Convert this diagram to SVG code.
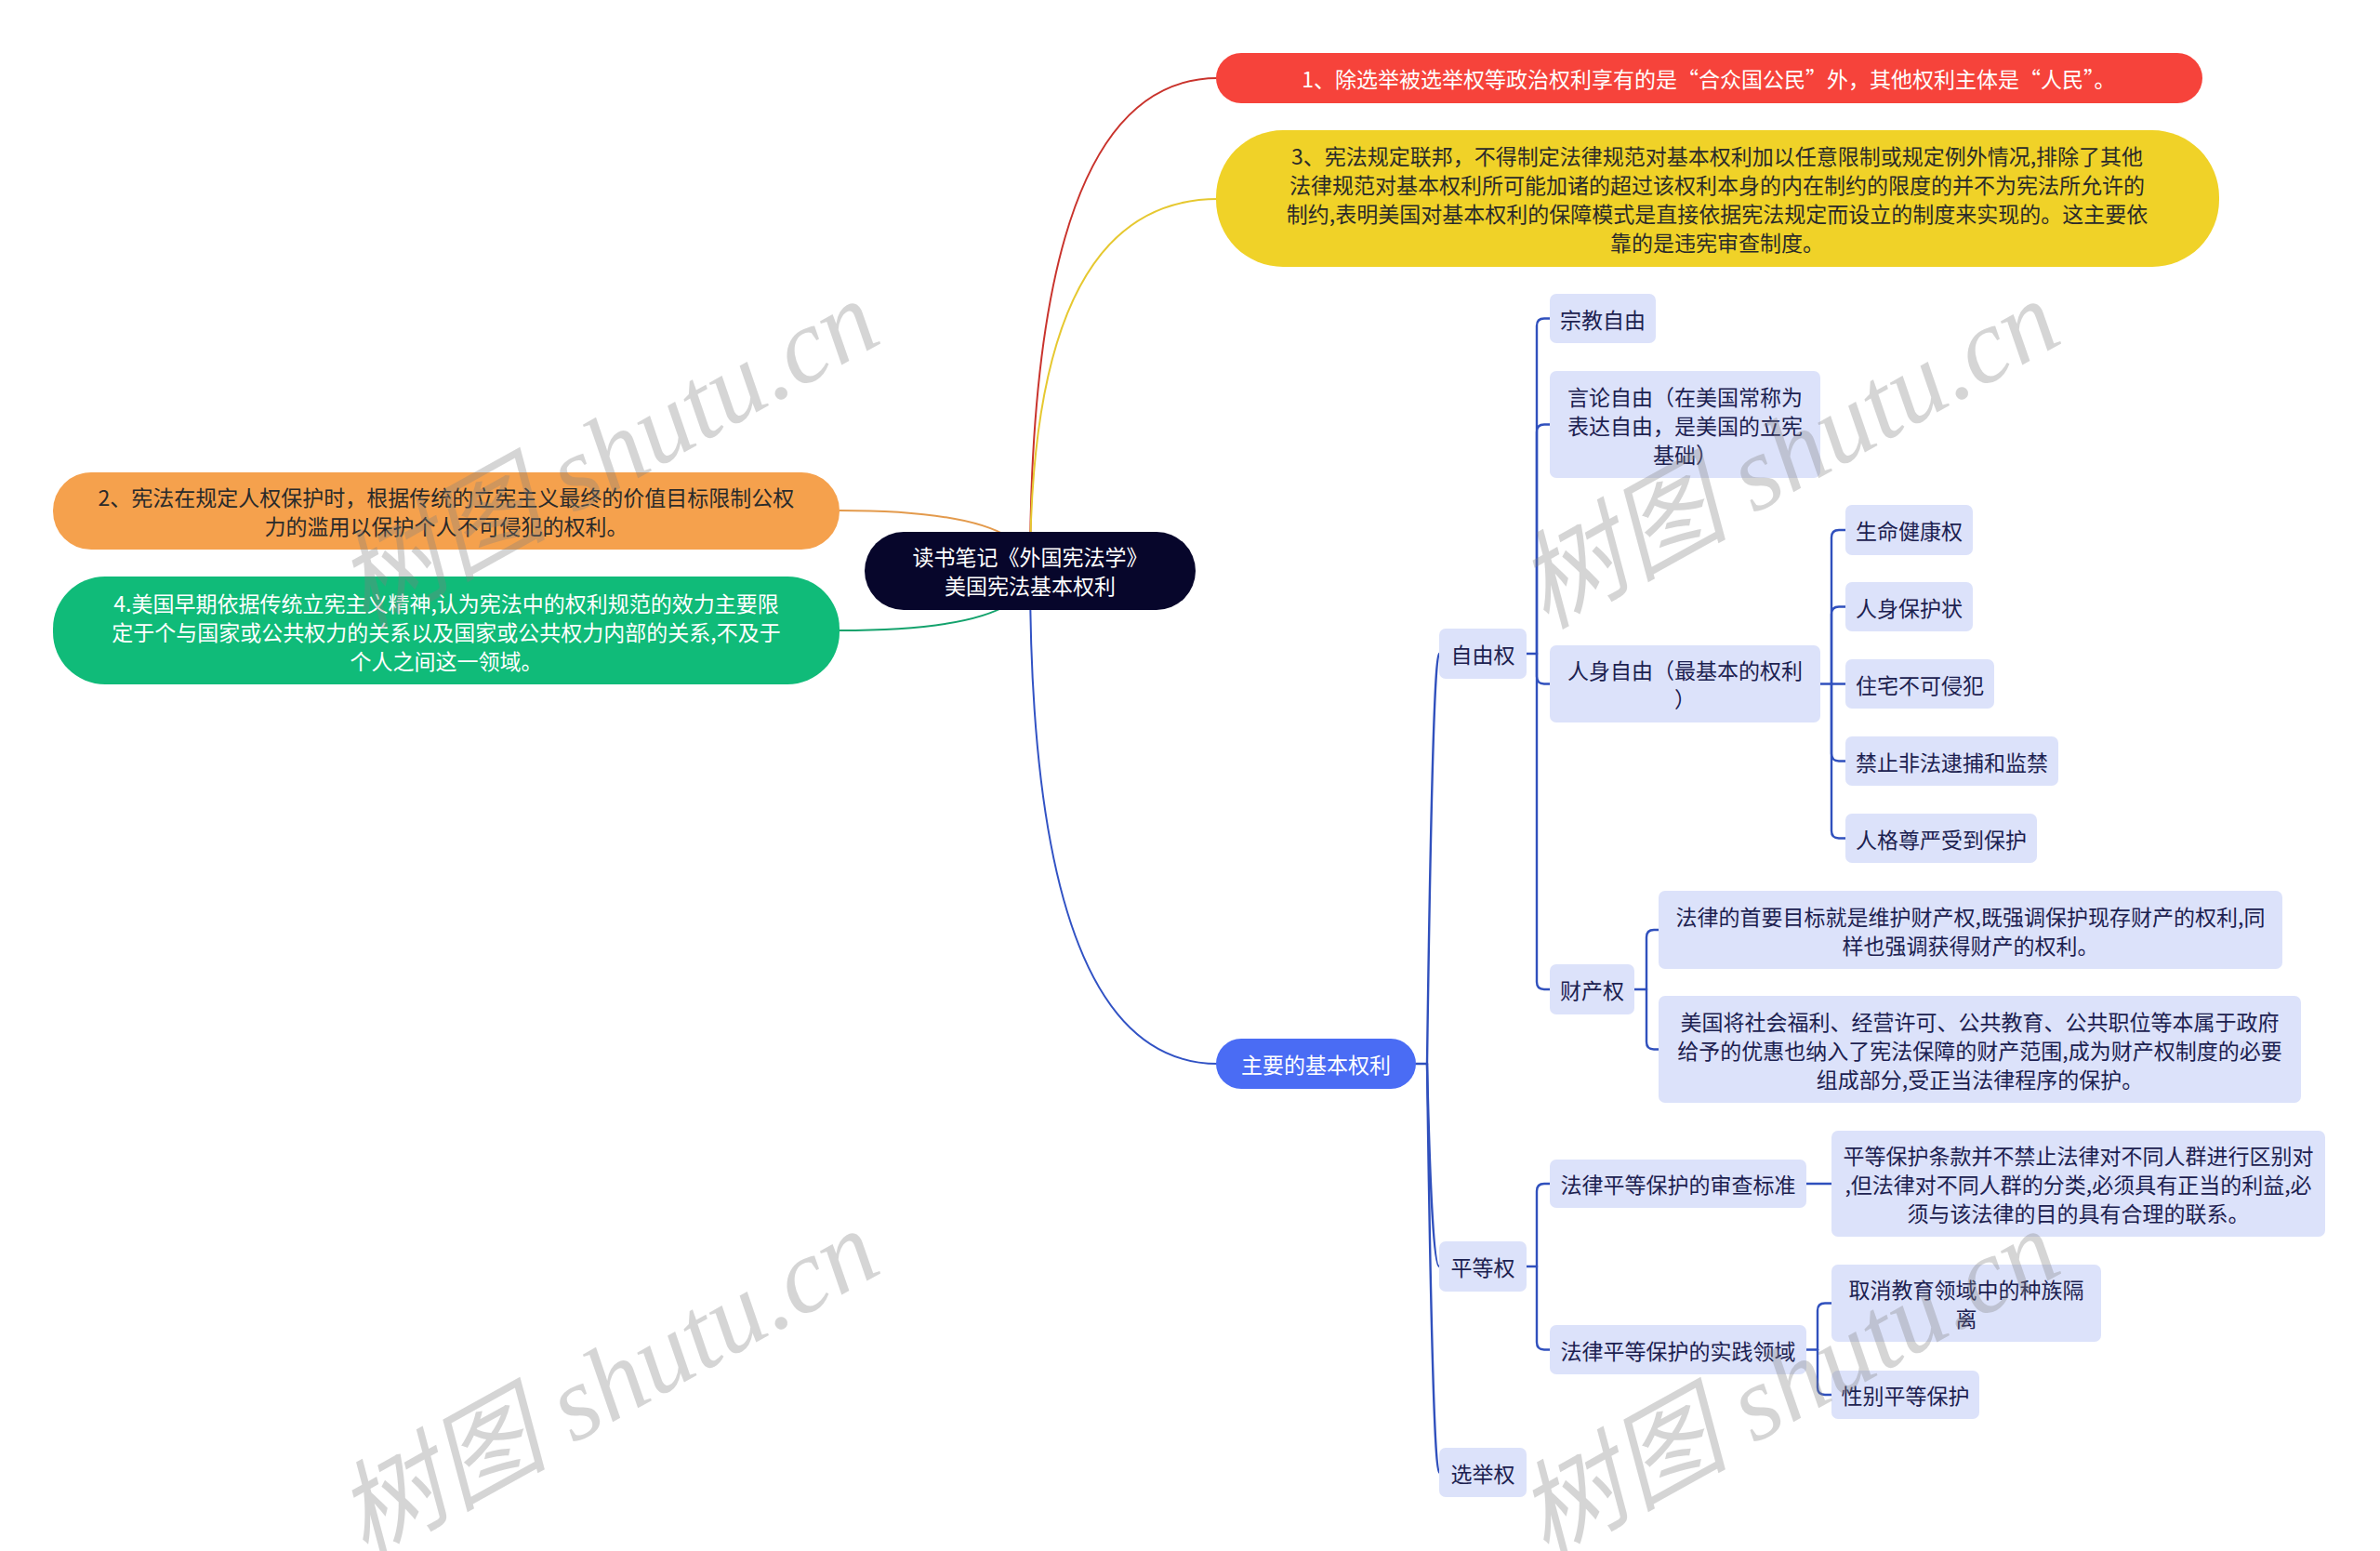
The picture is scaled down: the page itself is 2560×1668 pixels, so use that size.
<svg xmlns="http://www.w3.org/2000/svg" width="2560" height="1668" viewBox="0 0 2560 1668">
<style>
text{font-family:"Noto Sans CJK SC","Noto Sans",sans-serif;font-size:23px;text-anchor:middle;dominant-baseline:central}
.w{fill:#ffffff}
.d{fill:#2a2a2a}
.n{fill:#1c2150}
.lv{fill:#dce2fa}
.bl{fill:none;stroke:#3050bd;stroke-width:2.4;stroke-linecap:round}
.wm{font-family:"Liberation Serif","Noto Sans CJK SC",serif;font-style:italic;font-size:114px;fill:#808080;opacity:0.32;text-anchor:middle;dominant-baseline:alphabetic}
</style>
<rect width="2560" height="1668" fill="#ffffff"/>

<g id="connectors">
  <path d="M1108,614 Q1108,84 1310,84" fill="none" stroke="#c9332c" stroke-width="2"/>
  <path d="M1108,614 Q1108,214 1310,214" fill="none" stroke="#e6c830" stroke-width="2"/>
  <path d="M1108,614 Q1108,549 903,549" fill="none" stroke="#e39a4c" stroke-width="2"/>
  <path d="M1108,614 Q1108,678 903,678" fill="none" stroke="#13a26c" stroke-width="2"/>
  <path d="M1108,614 Q1108,1144 1310,1144" fill="none" stroke="#3152c4" stroke-width="2"/>
  <path class="bl" d="M1523,1144 H1535"/>
  <path class="bl" d="M1535,1144 Q1541,703 1548,703"/>
  <path class="bl" d="M1535,1144 Q1540,1362 1548,1362"/>
  <path class="bl" d="M1535,1144 Q1541,1583.5 1548,1583.5"/>
  <path class="bl" d="M1642,703 H1653"/>
  <path class="bl" d="M1653,703 V350.5 Q1653,342.5 1661,342.5 H1667"/>
  <path class="bl" d="M1653,703 V464.5 Q1653,456.5 1661,456.5 H1667"/>
  <path class="bl" d="M1653,703 V727.5 Q1653,735.5 1661,735.5 H1667"/>
  <path class="bl" d="M1653,703 V1056 Q1653,1064 1661,1064 H1667"/>
  <path class="bl" d="M1958,735.5 H1970"/>
  <path class="bl" d="M1970,735.5 V578 Q1970,570 1978,570 H1985"/>
  <path class="bl" d="M1970,735.5 V660.5 Q1970,652.5 1978,652.5 H1985"/>
  <path class="bl" d="M1970,735.5 H1985"/>
  <path class="bl" d="M1970,735.5 V810.5 Q1970,818.5 1978,818.5 H1985"/>
  <path class="bl" d="M1970,735.5 V893.5 Q1970,901.5 1978,901.5 H1985"/>
  <path class="bl" d="M1758,1064 H1771"/>
  <path class="bl" d="M1771,1064 V1008 Q1771,1000 1779,1000 H1784"/>
  <path class="bl" d="M1771,1064 V1120.5 Q1771,1128.5 1779,1128.5 H1784"/>
  <path class="bl" d="M1642,1362 H1653"/>
  <path class="bl" d="M1653,1362 V1281 Q1653,1273 1661,1273 H1667"/>
  <path class="bl" d="M1653,1362 V1443.5 Q1653,1451.5 1661,1451.5 H1667"/>
  <path class="bl" d="M1943,1273 H1970"/>
  <path class="bl" d="M1943,1451.5 H1955"/>
  <path class="bl" d="M1955,1451.5 V1409.5 Q1955,1401.5 1963,1401.5 H1970"/>
  <path class="bl" d="M1955,1451.5 V1492 Q1955,1500 1963,1500 H1970"/>
</g>

<g id="root">
  <rect x="930" y="572" width="356" height="84" rx="42" fill="#07062b"/>
  <text class="w" x="1108" y="598">读书笔记《外国宪法学》</text>
  <text class="w" x="1108" y="629">美国宪法基本权利</text>
</g>

<g id="n1">
  <rect x="1308" y="57" width="1061" height="54" rx="27" fill="#f6433b"/>
  <text class="w" x="1838" y="84">1、除选举被选举权等政治权利享有的是“合众国公民”外，其他权利主体是“人民”。</text>
</g>

<g id="n3">
  <rect x="1308" y="140" width="1079" height="147" rx="72" fill="#f0d228"/>
  <text class="d" x="1847" y="167">3、宪法规定联邦，不得制定法律规范对基本权利加以任意限制或规定例外情况,排除了其他</text>
  <text class="d" x="1847" y="198">法律规范对基本权利所可能加诸的超过该权利本身的内在制约的限度的并不为宪法所允许的</text>
  <text class="d" x="1847" y="229">制约,表明美国对基本权利的保障模式是直接依据宪法规定而设立的制度来实现的。这主要依</text>
  <text class="d" x="1847" y="260">靠的是违宪审查制度。</text>
</g>

<g id="n2">
  <rect x="57" y="508" width="846" height="83" rx="41" fill="#f5a14d"/>
  <text class="d" x="480" y="534">2、宪法在规定人权保护时，根据传统的立宪主义最终的价值目标限制公权</text>
  <text class="d" x="480" y="565">力的滥用以保护个人不可侵犯的权利。</text>
</g>

<g id="n4">
  <rect x="57" y="620" width="846" height="116" rx="56" fill="#10bb79"/>
  <text class="w" x="480" y="648">4.美国早期依据传统立宪主义精神,认为宪法中的权利规范的效力主要限</text>
  <text class="w" x="480" y="679">定于个与国家或公共权力的关系以及国家或公共权力内部的关系,不及于</text>
  <text class="w" x="480" y="710">个人之间这一领域。</text>
</g>

<g id="main">
  <rect x="1308" y="1117" width="215" height="54" rx="27" fill="#4a6cf4"/>
  <text class="w" x="1415.5" y="1144">主要的基本权利</text>
</g>

<g id="ziyou">
  <rect class="lv" x="1548" y="676" width="94" height="54" rx="7"/>
  <text class="n" x="1595" y="703">自由权</text>
</g>
<g id="zongjiao">
  <rect class="lv" x="1667" y="316" width="114" height="53" rx="7"/>
  <text class="n" x="1724" y="342.5">宗教自由</text>
</g>
<g id="yanlun">
  <rect class="lv" x="1667" y="399" width="291" height="115" rx="7"/>
  <text class="n" x="1812.5" y="426">言论自由（在美国常称为</text>
  <text class="n" x="1812.5" y="457">表达自由，是美国的立宪</text>
  <text class="n" x="1812.5" y="488">基础）</text>
</g>
<g id="renshen">
  <rect class="lv" x="1667" y="694" width="291" height="83" rx="7"/>
  <text class="n" x="1812.5" y="720">人身自由（最基本的权利</text>
  <text class="n" x="1812.5" y="751">）</text>
</g>
<g id="shengming">
  <rect class="lv" x="1985" y="543" width="137" height="54" rx="7"/>
  <text class="n" x="2053.5" y="570">生命健康权</text>
</g>
<g id="baohuzhuang">
  <rect class="lv" x="1985" y="626" width="137" height="53" rx="7"/>
  <text class="n" x="2053.5" y="652.5">人身保护状</text>
</g>
<g id="zhuzhai">
  <rect class="lv" x="1985" y="709" width="160" height="53" rx="7"/>
  <text class="n" x="2065" y="735.5">住宅不可侵犯</text>
</g>
<g id="jinzhi">
  <rect class="lv" x="1985" y="792" width="229" height="53" rx="7"/>
  <text class="n" x="2099.5" y="818.5">禁止非法逮捕和监禁</text>
</g>
<g id="renge">
  <rect class="lv" x="1985" y="875" width="206" height="53" rx="7"/>
  <text class="n" x="2088" y="901.5">人格尊严受到保护</text>
</g>
<g id="caichan">
  <rect class="lv" x="1667" y="1037" width="91" height="54" rx="7"/>
  <text class="n" x="1712.5" y="1064">财产权</text>
</g>
<g id="caichan1">
  <rect class="lv" x="1784" y="958" width="671" height="84" rx="7"/>
  <text class="n" x="2119.5" y="984.5">法律的首要目标就是维护财产权,既强调保护现存财产的权利,同</text>
  <text class="n" x="2119.5" y="1015.5">样也强调获得财产的权利。</text>
</g>
<g id="caichan2">
  <rect class="lv" x="1784" y="1071" width="691" height="115" rx="7"/>
  <text class="n" x="2129.5" y="1097.5">美国将社会福利、经营许可、公共教育、公共职位等本属于政府</text>
  <text class="n" x="2129.5" y="1128.5">给予的优惠也纳入了宪法保障的财产范围,成为财产权制度的必要</text>
  <text class="n" x="2129.5" y="1159.5">组成部分,受正当法律程序的保护。</text>
</g>
<g id="pingdeng">
  <rect class="lv" x="1548" y="1335" width="94" height="54" rx="7"/>
  <text class="n" x="1595" y="1362">平等权</text>
</g>
<g id="shencha">
  <rect class="lv" x="1667" y="1247" width="276" height="52" rx="7"/>
  <text class="n" x="1805" y="1273">法律平等保护的审查标准</text>
</g>
<g id="shencha1">
  <rect class="lv" x="1970" y="1216" width="531" height="114" rx="7"/>
  <text class="n" x="2235.5" y="1242">平等保护条款并不禁止法律对不同人群进行区别对</text>
  <text class="n" x="2235.5" y="1273">,但法律对不同人群的分类,必须具有正当的利益,必</text>
  <text class="n" x="2235.5" y="1304">须与该法律的目的具有合理的联系。</text>
</g>
<g id="shijian">
  <rect class="lv" x="1667" y="1425" width="276" height="53" rx="7"/>
  <text class="n" x="1805" y="1451.5">法律平等保护的实践领域</text>
</g>
<g id="shijian1">
  <rect class="lv" x="1970" y="1360" width="290" height="83" rx="7"/>
  <text class="n" x="2115" y="1386">取消教育领域中的种族隔</text>
  <text class="n" x="2115" y="1417">离</text>
</g>
<g id="shijian2">
  <rect class="lv" x="1970" y="1474" width="159" height="52" rx="7"/>
  <text class="n" x="2049.5" y="1500">性别平等保护</text>
</g>
<g id="xuanju">
  <rect class="lv" x="1548" y="1557" width="94" height="53" rx="7"/>
  <text class="n" x="1595" y="1583.5">选举权</text>
</g>

<g id="watermarks">
  <text class="wm" transform="rotate(-29 672 522)" x="672" y="522">树图 shutu.cn</text>
  <text class="wm" transform="rotate(-29 1942 522)" x="1942" y="522">树图 shutu.cn</text>
  <text class="wm" transform="rotate(-29 672 1522)" x="672" y="1522">树图 shutu.cn</text>
  <text class="wm" transform="rotate(-29 1942 1522)" x="1942" y="1522">树图 shutu.cn</text>
</g>
</svg>
